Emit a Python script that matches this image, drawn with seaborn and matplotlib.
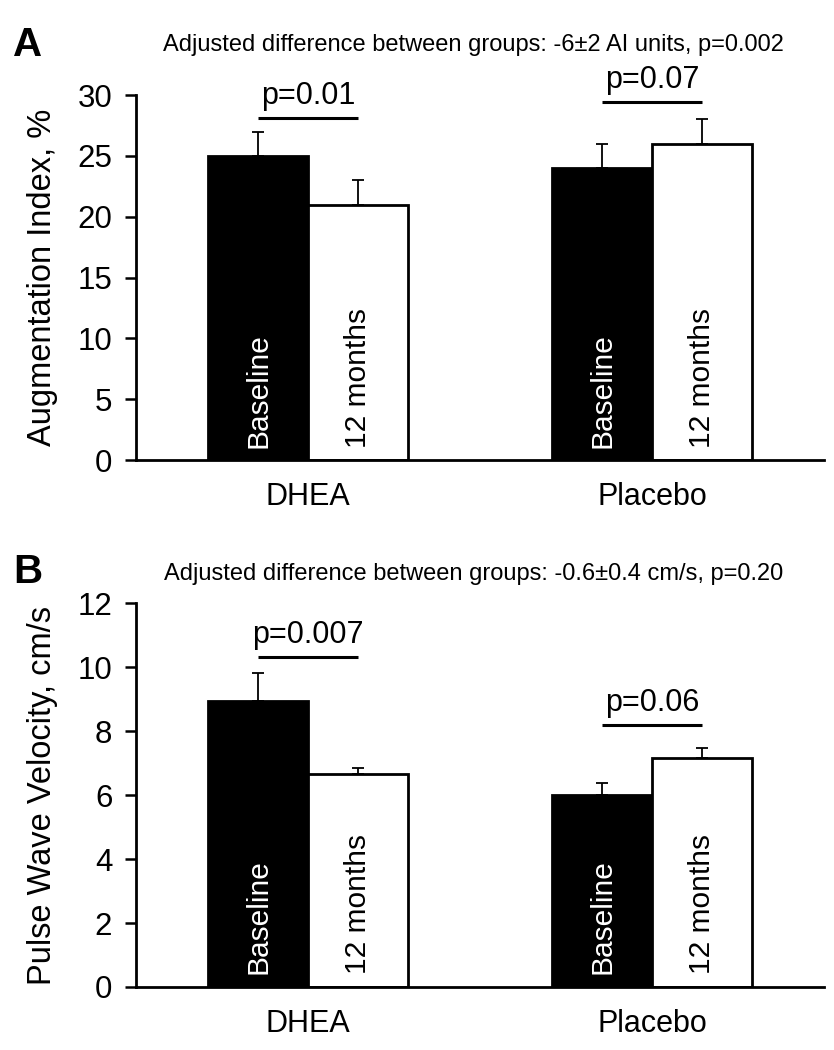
import matplotlib
matplotlib.use("Agg")
import matplotlib.pyplot as plt
import seaborn as sns
import pandas as pd

groups = ["DHEA", "Placebo"]
times = ["Baseline", "12 months"]

# Augmentation index (%), mean and SEM per group x time
ai_mean = {"DHEA": [25.0, 21.0], "Placebo": [24.0, 26.0]}
ai_sem = {"DHEA": [2.0, 2.0], "Placebo": [2.0, 2.0]}

# Pulse wave velocity (cm/s)
pwv_mean = {"DHEA": [8.95, 6.65], "Placebo": [6.0, 7.15]}
pwv_sem = {"DHEA": [0.85, 0.2], "Placebo": [0.37, 0.32]}

ai_p = ["p=0.01", "p=0.07"]
pwv_p = ["p=0.007", "p=0.06"]
ai_title = "Adjusted difference between groups: -6\u00b12 AI units, p=0.002"
pwv_title = "Adjusted difference between groups: -0.6\u00b10.4 cm/s, p=0.20"

sns.set_style("white")
plt.rcParams["font.family"] = ["Liberation Sans", "DejaVu Sans"]
for k in ["text.color", "axes.labelcolor", "xtick.color", "ytick.color"]:
    plt.rcParams[k] = "black"

fig = plt.figure(figsize=(8.34, 10.5), dpi=100)
axA = fig.add_axes([0.163, 0.5619, 0.825, 0.3476])
axB = fig.add_axes([0.163, 0.0600, 0.825, 0.3657])


def draw(ax, means, sems, ylim, yticks, ylabel, ptexts, sig_y, text_off):
    rows = []
    for g in groups:
        for i, t in enumerate(times):
            rows.append({"group": g, "time": t, "value": means[g][i], "sem": sems[g][i]})
    df = pd.DataFrame(rows)
    sns.barplot(data=df, x="group", y="value", hue="time", order=groups,
                hue_order=times, palette=["black", "white"], edgecolor="black",
                linewidth=2.0, width=0.58, errorbar=None, legend=False, ax=ax,
                saturation=1)
    centers = {}
    k = 0
    for t in times:
        for g in groups:
            p = ax.patches[k]
            k += 1
            x = p.get_x() + p.get_width() / 2
            top = p.get_height()
            centers[(g, t)] = x
            s = df[(df.group == g) & (df.time == t)]["sem"].iloc[0]
            ax.errorbar([x], [top], yerr=[[0], [s]], fmt="none", ecolor="black",
                        elinewidth=1.3, capsize=4, capthick=1.3, zorder=1)
            col = "white" if t == "Baseline" else "black"
            ax.annotate(t, xy=(x, 0), xytext=(0, 9), textcoords="offset points",
                        rotation=90, ha="center", va="bottom", color=col,
                        fontsize=21.5)
    for gi, g in enumerate(groups):
        x0 = centers[(g, times[0])]
        x1 = centers[(g, times[1])]
        ax.plot([x0, x1], [sig_y[gi], sig_y[gi]], color="black", lw=2.2,
                solid_capstyle="butt", clip_on=False)
        ax.annotate(ptexts[gi], xy=((x0 + x1) / 2, sig_y[gi]), xytext=(0, text_off),
                    textcoords="offset points", ha="center", va="bottom",
                    fontsize=22, annotation_clip=False)
    ax.set_xlim(-0.5, 1.5)
    ax.set_ylim(*ylim)
    ax.set_yticks(yticks)
    ax.set_xlabel("")
    ax.set_ylabel(ylabel, fontsize=23.5, labelpad=14)
    ax.tick_params(axis="y", labelsize=22.5, length=8, width=1.8, direction="out",
                   left=True, pad=9)
    ax.tick_params(axis="x", labelsize=22, length=0, pad=16)
    for side in ["top", "right"]:
        ax.spines[side].set_visible(False)
    for side in ["left", "bottom"]:
        ax.spines[side].set_linewidth(2.0)
        ax.spines[side].set_color("black")


draw(axA, ai_mean, ai_sem, (0, 30), [0, 5, 10, 15, 20, 25, 30],
     "Augmentation Index, %", ai_p, [28.1, 29.4], 5)
draw(axB, pwv_mean, pwv_sem, (0, 12), [0, 2, 4, 6, 8, 10, 12],
     "Pulse Wave Velocity, cm/s", pwv_p, [10.3, 8.2], 5)

fig.text(0.568, 1 - 45 / 1050, ai_title, ha="center", va="center", fontsize=17)
fig.text(0.568, 1 - 574 / 1050, pwv_title, ha="center", va="center", fontsize=17)
fig.text(0.016, 1 - 45 / 1050, "A", ha="left", va="center", fontsize=29, fontweight="bold")
fig.text(0.016, 1 - 572 / 1050, "B", ha="left", va="center", fontsize=29, fontweight="bold")

fig.savefig("out.png", dpi=100)
